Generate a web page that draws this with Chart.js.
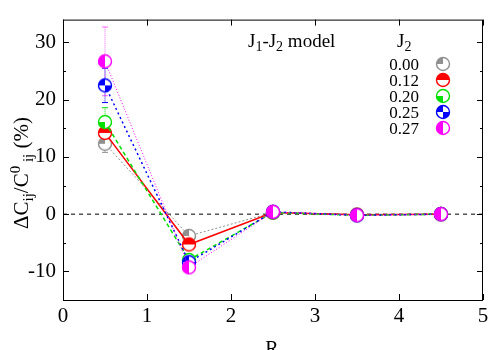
<!DOCTYPE html>
<html>
<head>
<meta charset="utf-8">
<script src="https://cdn.jsdelivr.net/npm/chart.js@4.4.1/dist/chart.umd.min.js"></script>
<style>
  html, body { margin: 0; padding: 0; background: #fff; }
  #wrap { width: 500px; height: 350px; }
</style>
</head>
<body>
<div id="wrap"><canvas id="myChart" width="500" height="350"></canvas></div>
<script>
"use strict"

// data
const rValues = [0.5, 1.5, 2.5, 3.5, 4.5];
const j2Labels = ["0.00", "0.12", "0.20", "0.25", "0.27"];
const gray = [12.3, -3.8, 0.3, -0.1, 0.0];
const red = [14.2, -5.3, 0.3, -0.1, 0.0];
const green = [16.1, -8.0, 0.3, -0.2, 0.0];
const blue = [22.5, -8.4, 0.4, -0.2, 0.0];
const magenta = [26.7, -9.3, 0.4, -0.2, 0.0];
const grayErr = [1.5, 0.5, 0, 0, 0];
const redErr = [1.5, 0.5, 0, 0, 0];
const greenErr = [2.5, 0.5, 0, 0, 0];
const blueErr = [3.0, 0.5, 0, 0, 0];
const magentaErr = [6.0, 0.5, 0, 0, 0];
const yTicks = [-10, 0, 10, 20, 30];
const xTicks = [0, 1, 2, 3, 4, 5];

const seriesColors = ["#909090", "#ff0000", "#00e000", "#0000ff", "#ff00ff"];
const lineDashes = [[2, 2], [], [4, 3], [2, 3], [1, 2]];
const lineWidths = [1, 1.5, 1.5, 1.5, 1];
// which parts of the circle are filled: [start angle, end angle] in radians
const fills = [
  [[Math.PI, 1.5 * Math.PI]],                       // top-left quarter
  [[Math.PI, 2 * Math.PI]],                         // top half
  [[0.5 * Math.PI, Math.PI]],                       // bottom-left quarter
  [[Math.PI, 1.5 * Math.PI], [0, 0.5 * Math.PI]],   // top-left + bottom-right
  [[0.5 * Math.PI, 1.5 * Math.PI]]                  // left half
];

function makeMarker (color, parts) {
  const c = document.createElement('canvas');
  c.width = 16; c.height = 16;
  const g = c.getContext('2d');
  const r = 6.5;
  g.beginPath(); g.arc(8, 8, r, 0, 2 * Math.PI); g.fillStyle = '#fff'; g.fill();
  g.fillStyle = color;
  parts.forEach(p => {
    g.beginPath(); g.moveTo(8, 8); g.arc(8, 8, r, p[0], p[1]); g.closePath(); g.fill();
  });
  g.beginPath(); g.arc(8, 8, r, 0, 2 * Math.PI);
  g.strokeStyle = color; g.lineWidth = 1.4; g.stroke();
  return c;
}

const allValues = [gray, red, green, blue, magenta];
const allErrors = [grayErr, redErr, greenErr, blueErr, magentaErr];
const markers = seriesColors.map((c, i) => makeMarker(c, fills[i]));

const datasets = allValues.map((vals, i) => ({
  label: j2Labels[i],
  data: rValues.map((x, k) => ({ x: x, y: vals[k] })),
  borderColor: seriesColors[i],
  borderWidth: lineWidths[i],
  borderDash: lineDashes[i],
  pointStyle: markers[i],
  pointRadius: 7,
  errors: allErrors[i],
  order: 4 - i,
}));

const serif = "'Liberation Serif', 'DejaVu Serif', serif";
Chart.defaults.font.family = serif;

function richText (g, parts, x, y) {
  // parts: [text, size, dy]
  let cx = x;
  parts.forEach(p => {
    g.font = p[1] + "px " + serif;
    g.fillText(p[0], cx, y + p[2]);
    cx += g.measureText(p[0]).width;
  });
  return cx - x;
}
function richWidth (g, parts) {
  let w = 0;
  parts.forEach(p => { g.font = p[1] + "px " + serif; w += g.measureText(p[0]).width; });
  return w;
}

const decorations = {
  id: 'decorations',
  beforeDatasetsDraw (chart) {
    const g = chart.ctx, a = chart.chartArea;
    const xs = chart.scales.x, ys = chart.scales.y;
    g.save();
    // zero line
    g.strokeStyle = '#000'; g.lineWidth = 1; g.setLineDash([4, 4]);
    g.beginPath(); g.moveTo(a.left, ys.getPixelForValue(0)); g.lineTo(a.right, ys.getPixelForValue(0)); g.stroke();
    g.setLineDash([]);
    // error bars
    chart.data.datasets.forEach((ds, i) => {
      g.strokeStyle = ds.borderColor; g.lineWidth = 1;
      g.globalAlpha = i === 4 ? 0.6 : 1;
      ds.errors.forEach((e, k) => {
        if (!e) return;
        const px = xs.getPixelForValue(rValues[k]);
        const y1 = ys.getPixelForValue(allValues[i][k] - e);
        const y2 = ys.getPixelForValue(allValues[i][k] + e);
        g.setLineDash(i === 1 ? [] : [1, 1]);
        g.beginPath(); g.moveTo(px, y1); g.lineTo(px, y2); g.stroke();
        g.setLineDash([]);
        g.beginPath();
        g.moveTo(px - 3, y1); g.lineTo(px + 3, y1);
        g.moveTo(px - 3, y2); g.lineTo(px + 3, y2);
        g.stroke();
      });
    });
    g.restore();
  },
  afterDraw (chart) {
    const g = chart.ctx, a = chart.chartArea;
    const xs = chart.scales.x, ys = chart.scales.y;
    g.save();
    g.strokeStyle = '#000'; g.lineWidth = 1;
    g.strokeRect(a.left + 0.5, a.top + 0.5, a.right - a.left - 1, a.bottom - a.top);
    g.beginPath();
    xTicks.forEach(t => {
      const px = Math.round(xs.getPixelForValue(t)) + 0.5;
      g.moveTo(px, a.bottom); g.lineTo(px, a.bottom - 6);
      g.moveTo(px, a.top); g.lineTo(px, a.top + 6);
    });
    for (let v = -15; v <= 30; v += 5) {
      const py = Math.round(ys.getPixelForValue(v)) + 0.5;
      const len = v % 10 === 0 ? 6 : 3;
      g.moveTo(a.left, py); g.lineTo(a.left + len, py);
      g.moveTo(a.right, py); g.lineTo(a.right - len, py);
    }
    g.stroke();

    g.fillStyle = '#000';
    g.textBaseline = 'alphabetic';
    g.textAlign = 'left';
    // title
    richText(g, [["J", 19, 0], ["1", 14, 4], ["-J", 19, 0], ["2", 14, 4], [" model", 19, 0]], 248, 47);
    richText(g, [["J", 19, 0], ["2", 14, 4]], 397, 47);
    // legend
    const rows = [64, 80, 96, 112, 128];
    j2Labels.forEach((lab, i) => {
      g.font = "17px " + serif;
      g.textAlign = 'right';
      g.fillText(lab, 419, rows[i] + 6);
      g.drawImage(markers[i], 443 - 8, rows[i] - 8);
    });
    g.textAlign = 'left';
    // axis titles
    g.font = "20px " + serif;
    g.textAlign = 'center';
    g.fillText("R", 272, 355);
    g.textAlign = 'left';
    const yParts = [["\u0394C", 21, 0], ["ij", 15, 5], ["/C", 21, 0], ["0", 15, -8], [" ij", 15, 5], [" (%)", 21, 0]];
    const w = richWidth(g, yParts);
    g.translate(28, 173);
    g.rotate(-Math.PI / 2);
    richText(g, yParts, -w / 2, 0);
    g.restore();
  }
};

new Chart(document.getElementById('myChart'), {
  type: 'line',
  data: { datasets: datasets },
  options: {
    responsive: false,
    animation: false,
    layout: { padding: { top: 12, right: 17, left: 0, bottom: 0 } },
    plugins: { legend: { display: false }, tooltip: { enabled: false } },
    scales: {
      x: {
        type: 'linear', min: 0, max: 5,
        grid: { display: false, drawTicks: false },
        border: { display: false },
        afterBuildTicks: s => { s.ticks = xTicks.map(v => ({ value: v })); },
        afterFit: s => { s.height = 50; },
        ticks: { color: '#000', padding: 4, font: { family: serif, size: 21 } }
      },
      y: {
        min: -15, max: 34,
        grid: { display: false, drawTicks: false },
        border: { display: false },
        afterBuildTicks: s => { s.ticks = yTicks.map(v => ({ value: v })); },
        afterFit: s => { s.width = 63; },
        ticks: { color: '#000', padding: 7, font: { family: serif, size: 21 } }
      }
    }
  },
  plugins: [decorations]
});
</script>
</body>
</html>
